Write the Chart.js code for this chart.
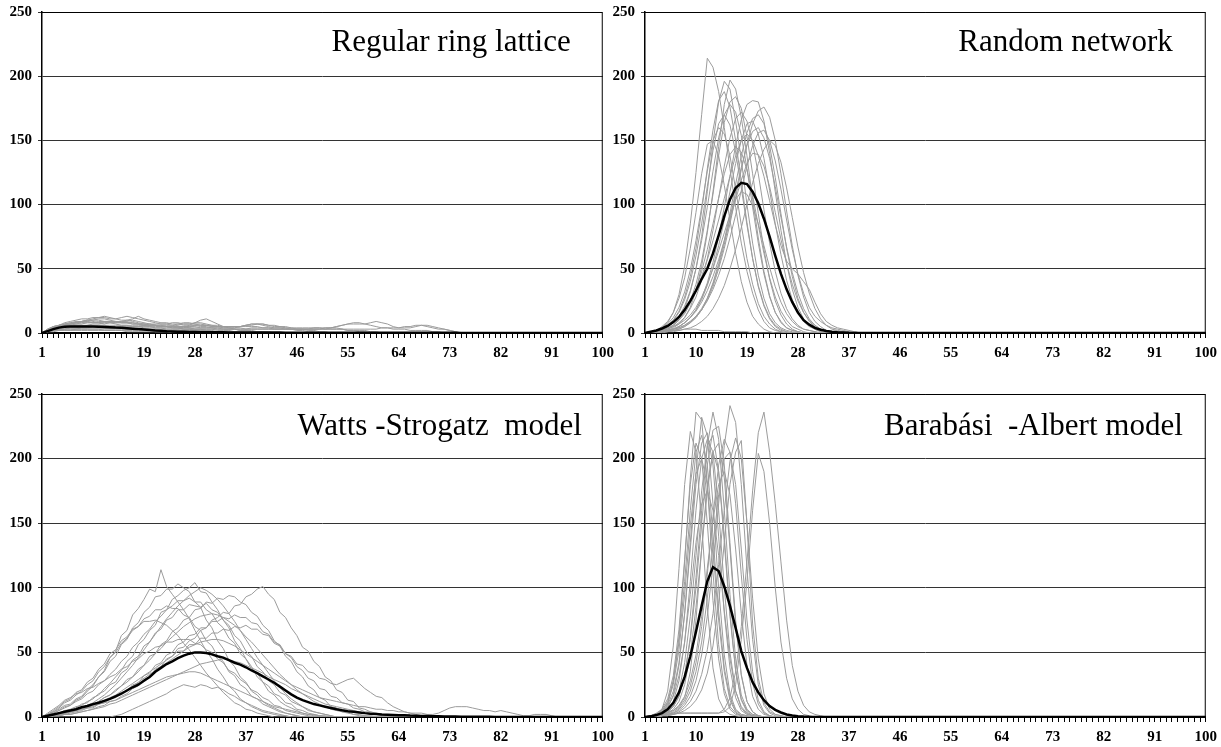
<!DOCTYPE html>
<html>
<head>
<meta charset="utf-8">
<script src="https://cdn.jsdelivr.net/npm/chart.js@4"></script>
<style>
  body { margin: 0; background: #fff; width: 1221px; height: 747px; overflow: hidden; position: relative; }
  canvas { position: absolute; }
</style>
</head>
<body>
<canvas id="ring" width="620" height="373" style="left:0;top:-3px"></canvas>
<canvas id="random" width="620" height="373" style="left:603px;top:-3px"></canvas>
<canvas id="ws" width="620" height="368" style="left:0;top:379px"></canvas>
<canvas id="ba" width="620" height="368" style="left:603px;top:379px"></canvas>
<script>
// categories 1..100, y ticks 0..250
const categories = Array.from({ length: 100 }, (_, i) => String(i + 1));
const yTicks = [0, 50, 100, 150, 200, 250];
const xLabelEvery = 9;

const titles = ['Regular ring lattice', 'Random network', 'Watts -Strogatz  model', 'Barabási  -Albert model'];

// black mean curves (values from cat 1, rest 0)
const ringMean = [0,1.5,3,4.2,4.8,5,5.1,5.1,5,5,4.9,4.7,4.5,4.2,4,3.7,3.4,3.1,2.8,2.4,2,1.7,1.4,1.2,1,0.9,0.8,0.7,0.6,0.6,0.5,0.5,0.5,0.4,0.4,0.4,0.4,0.3,0.3,0.3,0.3,0.3,0.3,0.2,0.2,0.2,0.2,0.2,0.2,0.2,0.2,0.2,0.2,0.2,0.2,0.2,0.2,0.2,0.2,0.2,0.1,0.1,0.1,0.1,0.1,0.1,0.1,0.1,0.1,0.1,0.1,0.1,0.1,0.1];
const randomMean = [0,1,2,3.5,5.5,8.5,12.5,18,25,33,42,50,62,76,91,104,113,117,116,110,101,89,75,60,46,34,24,16,10,6.5,4,2.5,1.5,0.9,0.5,0.3,0.1];
const wsMean = [0,1,2,3,4,5,6,7.5,8.5,10,11,12.5,14,16,18,20.5,23,25,28,31,35,38,41,43,45.5,47.5,49,50,50,49.5,48.5,47,46,44,42,40.5,38.5,36,34,31.5,29,26.5,23.5,20.5,17.5,15,13,11.5,10,9,8,7,6,5.2,4.5,4,3.5,3,2.6,2.3,2,1.8,1.6,1.4,1.3,1.1,1,0.8,0.7,0.6,0.5,0.4,0.35,0.3,0.25,0.2,0.15,0.1,0.1,0.1];
const baMean = [0,0.5,1.5,3,6,11,19,31,47,66,86,105,116,113,101,86,69,51,38,27,19,13,8.5,5.5,3.5,2,1.2,0.6,0.3,0.1];

// grey single runs (values from cat 1, rest 0)
const ringRuns = [
  [0,2,4,6,7,8,8,9,10,11,12,13,12,11,12,13,12,11,10,9,8,7,7,6,5,5,4,3,3,2,2,1,1,1],
  [0,3,5,6,7,7,8,8,9,8,8,7,8,7,6,6,5,5,6,5,4,4,3,3,3,4,6,8,10,11,9,7,5,4,3,2,2,1,1],
  [0,1,2,3,3,4,4,4,4,5,5,4,4,4,4,3,3,3,3,3,3,3,3,3,3,3,3,3,3,3,3,3,3,3,3,3,3,4,4,4,4,3,3,3,3,3,3,3,3,3,4,4,5,6,7,8,8,7,8,9,8,7,5,4,4,4,5,6,6,5,4,3,2,1],
  [0,2,4,5,6,7,7,8,8,8,9,9,9,8,8,8,7,7,6,6,6,5,5,5,6,7,7,8,8,7,6,6,5,5,5,5,6,7,7,6,5,4,4,3,3,2,2,1,1],
  [0,3,5,6,6,7,8,9,10,10,11,11,10,9,9,9,10,9,8,7,6,6,5,5,4,4,4,3,3,3,3,2,2,2,1,1],
  [0,2,3,4,5,5,6,6,6,7,7,8,8,8,9,10,11,13,11,10,9,8,8,7,7,6,6,6,5,5,4,4,3,3,3,2,2,2,1,1,1],
  [0,1,2,3,3,4,4,5,5,5,6,6,6,6,6,6,6,6,6,7,7,7,7,8,8,7,7,7,6,6,6,5,5,5,5,5,6,6,7,7,6,6,5,5,4,4,4,4,4,4,3,3,3,3,2,2,2,2,1,1],
  [0,2,4,5,6,6,6,6,5,5,5,5,4,4,4,4,4,3,3,3,3,2,2,2,2,2,1,1,1,1],
  [0,1,2,2,2,2,3,3,3,3,3,3,3,3,3,3,3,3,3,3,2,2,2,2,2,2,2,2,2,2,1,1,1,1,1,1,1,1,1,1],
  [0,3,5,6,7,8,9,9,10,9,8,8,8,8,8,8,8,7,7,6,6,6,6,6,7,8,8,7,7,6,5,5,4,4,4,4,3,3,3,3,3,3,3,3,3,3,3,3,4,4,4,4,4,3,2,2,1,1],
  [0,1,3,4,5,5,5,5,6,6,6,6,5,5,5,5,5,5,4,4,4,4,4,4,4,5,5,5,4,4,4,4,4,4,4,5,5,5,5,4,4,4,4,4,3,3,3,3,3,3,3,3,3,3,3,3,3,3,3,3,4,4,4,4,5,5,6,6,5,4,3,3,2,1],
  [0,2,4,5,6,6,7,7,8,8,8,9,9,9,8,8,8,7,7,6,6,5,5,4,4,3,3,2,2,2,1,1,1],
  [0,2,3,5,6,7,8,9,9,10,10,9,9,9,8,8,7,7,6,6,6,5,5,5,5,5,5,6,6,6,5,5,5,5,5,5,6,7,7,7,6,5,5,4,4,3,3,2,2,1,1],
  [0,1,2,2,3,3,3,4,4,4,4,4,4,4,4,4,5,5,5,5,5,5,5,5,5,4,4,4,4,4,4,3,3,3,3,3,3,3,3,3,3,3,3,3,3,3,3,3,3,3,3,4,5,6,7,7,7,7,6,5,4,4,3,3,3,2,2,2,2,1,1],
  [0,2,4,6,8,9,10,11,11,12,12,12,11,11,10,10,9,8,7,7,6,5,5,4,4,3,3,2,2,1,1],
  [0,1,1,2,2,2,2,2,2,2,2,2,2,2,2,1,1,1,1,1,1,1,1],
  [0,1,2,3,3,3,3,3,3,3,3,2,2,2,2,2,2,2,2,2,1,1,1,1,1,1,1]
];

const randomRuns = [
  [0,1,2,4,8,16,30,52,85,125,170,214,207,188,160,128,98,70,48,31,18,9,4,2,1],
  [0,0.5,1,2,3,6,11,19,32,50,75,110,148,180,196,190,165,135,100,70,45,27,15,8,4,2,1],
  [0,0,1,1,2,4,7,12,20,33,52,78,110,145,178,197,190,168,138,104,74,48,29,16,8,4,2,1],
  [0,1,2,3,6,10,17,28,44,66,95,128,158,181,188,176,150,118,86,58,36,21,11,5,2,1],
  [0,0,1,1,2,3,5,8,12,18,27,39,55,75,98,122,146,166,178,181,180,165,140,110,80,54,34,20,11,6,3,1],
  [0,0,0,1,1,2,3,5,8,12,18,26,36,50,66,85,106,127,147,163,173,176,168,150,124,95,68,45,28,16,9,5,2,1],
  [0,1,1,2,3,5,8,12,19,28,41,58,80,105,130,152,167,172,165,148,124,96,70,48,31,19,11,6,3,2,1],
  [0,0,1,1,2,3,5,8,12,18,26,37,51,68,88,110,132,150,163,165,155,136,111,85,61,41,26,16,9,5,3,1],
  [0,1,2,4,7,12,20,32,49,72,98,126,150,160,155,138,112,84,58,38,23,13,7,3,1],
  [0,1,2,3,5,8,12,17,24,33,44,57,72,88,105,122,138,150,155,150,138,122,103,84,68,56,50,46,40,34,24,15,9,6,4,3,2,1],
  [0,0,0,1,1,2,3,5,8,12,18,27,39,54,72,93,116,138,156,167,170,163,146,121,93,66,44,27,16,9,5,3,2,1,1,1],
  [0,1,1,2,4,6,10,15,23,34,48,65,85,105,124,139,145,141,127,107,84,62,43,28,17,10,5,3,1],
  [0,0,1,1,2,3,5,8,12,17,24,33,44,57,72,88,104,119,132,140,139,130,114,94,73,54,38,25,16,10,6,3,2,1],
  [0,1,1,3,5,8,13,21,33,50,72,98,126,152,170,178,172,154,128,98,70,46,28,16,9,4,2,1],
  [0,0,1,1,2,3,4,6,9,13,19,27,38,52,69,89,110,129,146,157,160,152,136,114,90,67,47,31,19,11,6,3,2,1],
  [0,1,1,2,3,5,7,10,14,20,28,38,50,64,78,92,104,110,108,99,85,68,51,36,24,15,9,5,3,2,1],
  [0,0,0,0,1,1,2,3,4,6,9,13,19,27,37,50,65,82,100,117,132,143,150,146,133,113,90,67,47,31,19,11,6,3,2,1],
  [0,1,2,3,6,10,16,26,40,60,85,114,142,163,170,162,141,113,84,58,37,22,12,6,3,1],
  [0,1,1,2,2,2,2,3,3,3,2,2,2,2,1,1,1,1,1],
  [0,1,1,2,4,6,10,16,25,38,56,80,108,138,164,180,184,175,153,124,93,65,42,25,14,7,3,1],
  [0,0,1,1,2,3,4,6,9,13,18,25,34,45,58,74,92,111,130,146,156,158,150,134,112,88,65,46,31,20,13,9,6,4,3,2,1,1],
  [0,1,2,5,9,16,27,43,66,94,124,147,150,138,115,88,62,40,24,13,7,3,1]
];

const wsRuns = [
  [0,2,3,5,8,9,13,15,20,24,31,36,46,51,63,67,79,84,91,99,97,114,101,95,89,83,76,67,59,51,45,37,31,24,20,14,11,8,6,4,3,2,1,1],
  [0,1,2,3,5,5,7,10,11,15,17,22,26,31,36,43,47,56,60,67,71,81,83,91,94,98,100,104,97,96,89,83,75,69,59,53,45,39,31,27,20,17,12,9,7,5,3,2,1,1],
  [0,2,4,6,9,10,14,16,21,25,31,35,43,47,56,60,69,73,81,85,93,94,99,99,103,100,97,89,85,75,69,59,53,44,39,31,27,20,17,12,9,7,5,3,2,1],
  [0,0,1,1,2,2,3,4,5,6,8,9,12,13,16,18,22,24,29,31,37,39,45,47,53,54,59,61,67,69,75,77,81,80,86,87,93,95,99,101,95,91,81,77,69,63,54,51,43,39,31,28,21,19,13,12,7,6,4,3,2,1,1],
  [0,1,1,2,3,4,5,7,8,10,12,15,17,21,24,29,31,37,40,47,49,56,59,66,69,75,77,83,84,89,88,92,91,94,93,89,87,81,78,71,67,59,55,47,43,35,31,24,21,15,13,8,7,4,4,2,2,1,1],
  [0,1,2,3,5,6,8,9,12,14,18,20,25,27,34,37,44,47,55,58,65,68,75,77,83,83,87,86,85,88,83,81,75,71,63,59,51,47,39,35,28,25,19,17,12,10,8,5,4,3,2,1],
  [0,2,4,7,11,13,17,20,25,28,35,39,46,50,57,61,67,70,76,78,83,83,86,84,84,79,77,70,67,59,55,47,43,35,32,25,22,16,14,10,8,6,4,3,2,1],
  [0,0,1,1,2,3,4,5,7,7,10,11,14,15,19,20,25,26,32,34,40,42,48,50,56,58,63,64,69,69,74,74,77,76,79,77,77,73,72,66,64,58,56,49,46,39,36,30,28,22,21,16,15,11,10,7,6,4,4,2,2,1,1],
  [0,1,1,2,3,4,5,6,7,9,11,13,15,17,20,23,26,29,32,35,38,41,44,47,51,51,56,56,61,61,65,65,68,67,70,69,71,68,68,64,63,57,55,49,47,41,40,35,34,30,29,26,25,27,29,30,26,22,19,16,15,11,8,6,4,3,2,1,1],
  [0,0,0,0,0,0,0,0,0,0,0,0,0,1,2,4,6,8,10,12,14,16,18,21,23,25,24,23,25,24,22,23,21,18,16,13,11,9,7,5,4,3,2,1],
  [0,1,2,3,4,5,6,7,8,9,10,11,12,13,15,17,19,21,23,25,27,29,31,32,33,34,35,35,34,32,30,28,26,24,22,20,18,16,14,12,10,8,7,6,5,4,3,2,2,1,1],
  [0,1,3,5,7,9,12,14,18,20,25,28,33,37,43,47,54,58,64,68,74,78,83,86,90,90,92,89,89,83,80,73,69,61,57,49,45,37,34,27,24,18,16,11,10,6,5,3,2,1],
  [0,1,1,2,3,4,5,6,7,8,10,12,14,16,18,21,24,27,30,33,36,39,42,45,48,51,54,56,58,59,60,60,59,57,55,52,49,46,43,40,37,34,31,28,25,23,21,19,17,15,14,13,12,11,10,9,8,8,7,6,6,5,5,4,4,3,3,3,2,2,3,5,7,8,8,8,7,6,5,5,4,5,4,3,2,1,1,2,2,2,1],
  [0,2,5,8,12,14,19,21,27,30,37,41,49,52,59,62,68,70,74,74,75,73,71,67,63,57,52,46,40,34,29,24,19,15,11,9,6,5,3,2,1],
  [0,1,2,3,3,4,6,7,9,10,12,15,17,20,24,27,31,35,40,44,49,53,58,62,66,70,73,76,78,79,80,79,77,74,71,67,62,58,53,48,43,38,33,29,25,21,18,15,12,10,8,6,5,4,3,2,1,1],
  [0,3,6,9,13,15,18,19,22,23,26,28,31,33,37,39,43,45,49,51,54,55,58,58,60,60,60,57,56,52,50,45,42,36,34,29,26,21,19,15,13,9,8,5,4,3,2,1],
  [0,1,1,2,3,4,5,7,9,11,14,17,21,25,30,35,40,46,52,58,64,70,76,81,86,90,94,97,100,98,95,91,86,80,74,67,60,53,46,40,34,28,23,18,14,11,8,6,4,3,2,1],
  [0,0,1,1,2,2,3,4,5,6,7,8,10,11,13,15,17,19,21,23,25,27,29,31,33,35,37,39,41,42,43,44,45,44,43,42,40,38,36,34,31,29,27,25,22,20,18,16,14,12,10,9,8,7,6,5,4,3,2,2,1]
];

const baRuns = [
  [0,1,2,6,20,55,115,180,221,205,150,85,38,14,5,2,1],
  [0,1,2,4,10,28,62,120,185,236,230,180,112,56,22,8,3,1],
  [0,0,1,3,7,17,40,80,135,190,232,218,165,100,48,18,6,2,1],
  [0,0,1,2,4,8,16,32,62,108,160,210,236,215,160,95,45,17,6,2,1],
  [0,0,0,1,2,3,5,9,16,28,48,78,118,165,210,241,228,180,115,60,25,9,3,1],
  [0,0,0,1,1,2,3,5,8,13,21,34,55,88,135,180,205,214,150,72,30,11,4,2,1],
  [0,1,2,2,2,2,3,3,3,3,3,3,3,3,6,15,35,70,120,175,220,236,205,165,120,75,40,20,9,4,2,1],
  [0,1,2,4,9,20,42,80,130,180,212,220,195,140,80,38,15,5,2,1],
  [0,0,1,2,5,12,28,58,105,160,200,215,205,160,100,50,20,7,2,1],
  [0,0,1,2,4,9,20,42,78,125,175,210,218,190,135,78,36,14,5,2,1],
  [0,0,0,1,3,6,12,25,48,85,130,175,205,212,185,130,72,32,12,4,1],
  [0,1,2,5,12,28,58,105,160,205,218,195,140,82,38,15,5,2,1],
  [0,0,0,1,2,4,7,13,24,42,70,110,155,195,215,205,165,110,60,26,10,3,1],
  [0,0,0,1,1,2,4,7,12,20,33,52,80,118,160,198,216,200,150,92,45,18,6,2,1],
  [0,1,3,6,14,32,68,122,180,212,200,150,90,45,18,6,2,1],
  [0,0,1,2,4,8,16,32,60,100,150,195,222,225,195,135,75,33,12,4,1],
  [0,1,2,3,4,5,8,15,35,75,130,180,205,190,140,80,36,13,4,1],
  [0,1,2,4,8,16,32,58,95,135,165,175,160,125,82,45,20,8,3,1],
  [0,0,1,2,3,5,9,16,28,48,78,115,152,180,190,172,130,80,40,16,6,2,1],
  [0,1,2,3,3,3,3,3,3,3,3,3,3,3,4,8,25,60,105,160,204,190,150,100,58,30,14,6,2,1],
  [0,1,2,5,11,25,52,95,148,188,200,180,130,75,35,13,4,1],
  [0,0,0,1,2,3,6,11,20,35,58,92,132,172,200,205,180,130,75,35,13,4,1]
];

// title position inside the plot: [offset from right edge, offset from top]
const titlePos = [[32, 31], [33, 31], [21, 33], [23, 33]];

function pad(v) {
  const out = v.slice();
  while (out.length < categories.length) out.push(0);
  return out;
}

const framePlugin = {
  id: 'frame',
  afterDraw(chart) {
    const a = chart.chartArea;
    const ctx = chart.ctx;
    const o = chart.options.plugins.frame;
    ctx.save();
    ctx.strokeStyle = '#000';
    ctx.lineWidth = 1;
    ctx.beginPath();
    ctx.moveTo(a.left, a.top + 0.5);
    ctx.lineTo(a.right - 0.5, a.top + 0.5);
    ctx.lineTo(a.right - 0.5, a.bottom);
    ctx.stroke();
    ctx.fillStyle = '#000';
    ctx.font = '31px "Liberation Serif", "Times New Roman", serif';
    ctx.textAlign = 'right';
    ctx.textBaseline = 'middle';
    ctx.fillText(o.text, a.right - o.dx, a.top + o.dy);
    ctx.restore();
  }
};

const tickFont = { family: '"Liberation Serif", "Times New Roman", serif', size: 15, weight: 'bold' };

function makeChart(id, idx, runs, mean, xHeight) {
  const datasets = [{
    data: pad(mean),
    borderColor: '#000',
    borderWidth: 2.5,
    order: 0
  }];
  runs.forEach(r => datasets.push({
    data: pad(r),
    borderColor: '#9c9c9c',
    borderWidth: 1,
    order: 1
  }));
  new Chart(document.getElementById(id), {
    type: 'line',
    data: { labels: categories, datasets: datasets },
    plugins: [framePlugin],
    options: {
      responsive: false,
      animation: false,
      events: [],
      elements: { point: { radius: 0 }, line: { tension: 0 } },
      layout: { padding: { left: 0, top: 12, right: 13, bottom: 0 } },
      plugins: {
        legend: { display: false },
        tooltip: { enabled: false },
        frame: { text: titles[idx], dx: titlePos[idx][0], dy: titlePos[idx][1] }
      },
      scales: {
        x: {
          offset: false,
          afterFit: s => { s.height = xHeight; },
          border: { color: '#000', width: 2 },
          grid: { display: true, drawOnChartArea: false, drawTicks: true, tickLength: 5, color: '#000', lineWidth: 1 },
          ticks: {
            autoSkip: false,
            maxRotation: 0,
            padding: 6,
            color: '#000',
            font: tickFont,
            callback: (v, i) => (i % xLabelEvery === 0 ? categories[i] : '')
          }
        },
        y: {
          min: yTicks[0],
          max: yTicks[yTicks.length - 1],
          afterFit: s => { s.width = 42; },
          border: { color: '#000', width: 1.5 },
          grid: { color: '#333', lineWidth: 1, tickLength: 4, drawTicks: true },
          afterBuildTicks: s => { s.ticks = yTicks.map(v => ({ value: v })); },
          ticks: {
            padding: 6,
            color: '#000',
            font: tickFont
          }
        }
      }
    }
  });
}

makeChart('ring', 0, ringRuns, ringMean, 37);
makeChart('random', 1, randomRuns, randomMean, 37);
makeChart('ws', 2, wsRuns, wsMean, 30);
makeChart('ba', 3, baRuns, baMean, 30);
</script>
</body>
</html>
